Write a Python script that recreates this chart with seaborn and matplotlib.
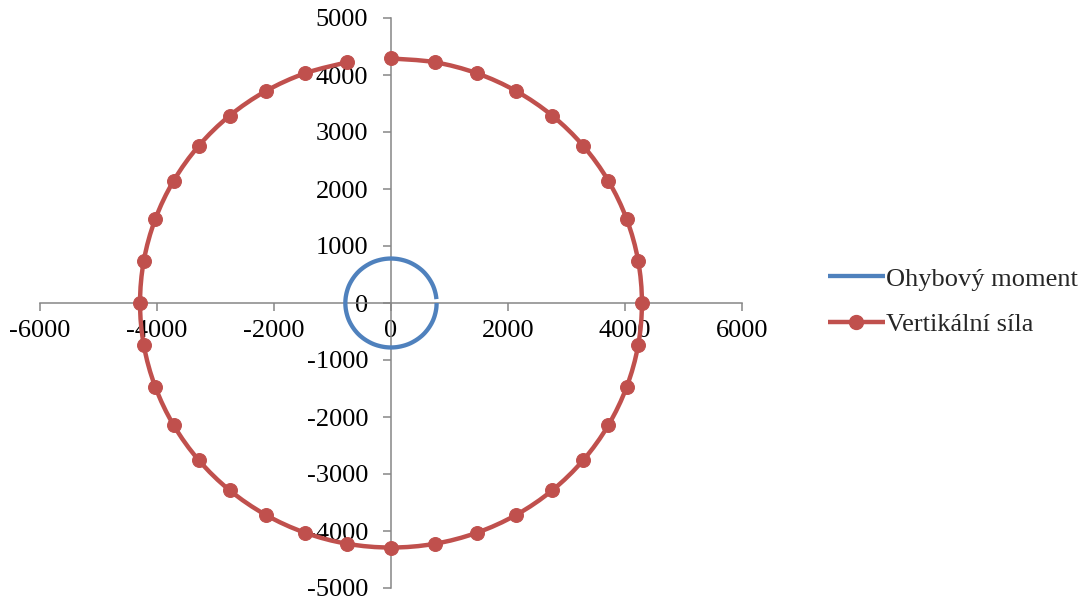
import matplotlib
matplotlib.use("Agg")
import matplotlib.pyplot as plt
from matplotlib.path import Path
from matplotlib.patches import PathPatch
from matplotlib.lines import Line2D
import seaborn as sns

# Ohybový moment (bending moment) polar curve, points every 5 degrees
moment_x = [780, 777, 768, 753, 733, 707, 675, 639, 598, 552, 501, 447, 390, 330, 267, 202, 135, 68, 0,
            -68, -135, -202, -267, -330, -390, -447, -501, -552, -598, -639, -675, -707, -733, -753, -768, -777, -780,
            -777, -768, -753, -733, -707, -675, -639, -598, -552, -501, -447, -390, -330, -267, -202, -135, -68, 0,
            68, 135, 202, 267, 330, 390, 447, 501, 552, 598, 639, 675, 707, 733, 753, 768, 777]
moment_y = [0, -68, -135, -202, -267, -330, -390, -447, -501, -552, -598, -639, -675, -707, -733, -753, -768, -777, -780,
            -777, -768, -753, -733, -707, -675, -639, -598, -552, -501, -447, -390, -330, -267, -202, -135, -68, 0,
            68, 135, 202, 267, 330, 390, 447, 501, 552, 598, 639, 675, 707, 733, 753, 768, 777, 780,
            777, 768, 753, 733, 707, 675, 639, 598, 552, 501, 447, 390, 330, 267, 202, 135, 68]

# Vertikální síla (vertical force) polar curve, points every 10 degrees
force_x = [0, 745, 1467, 2145, 2758, 3286, 3715, 4031, 4225, 4290,
           4225, 4031, 3715, 3286, 2758, 2145, 1467, 745, 0,
           -745, -1467, -2145, -2758, -3286, -3715, -4031, -4225, -4290,
           -4225, -4031, -3715, -3286, -2758, -2145, -1467, -745]
force_y = [4290, 4225, 4031, 3715, 3286, 2758, 2145, 1467, 745, 0,
           -745, -1467, -2145, -2758, -3286, -3715, -4031, -4225, -4290,
           -4225, -4031, -3715, -3286, -2758, -2145, -1467, -745, 0,
           745, 1467, 2145, 2758, 3286, 3715, 4031, 4225]

series_names = ["Ohybový moment", "Vertikální síla"]
x_ticks = [-6000, -4000, -2000, 0, 2000, 4000, 6000]
y_ticks = [-5000, -4000, -3000, -2000, -1000, 0, 1000, 2000, 3000, 4000, 5000]


def smooth_path(xs, ys):
    """Cubic Bezier path through the points (spreadsheet-style smoothed line)."""
    pts = list(zip(xs, ys))
    n = len(pts)
    verts = [pts[0]]
    codes = [Path.MOVETO]
    for i in range(n - 1):
        p0 = pts[i - 1] if i > 0 else pts[i]
        p1 = pts[i]
        p2 = pts[i + 1]
        p3 = pts[i + 2] if i + 2 < n else pts[i + 1]
        c1 = (p1[0] + (p2[0] - p0[0]) / 6.0, p1[1] + (p2[1] - p0[1]) / 6.0)
        c2 = (p2[0] - (p3[0] - p1[0]) / 6.0, p2[1] - (p3[1] - p1[1]) / 6.0)
        verts += [c1, c2, p2]
        codes += [Path.CURVE4] * 3
    return Path(verts, codes)


sns.set_style("white")
plt.rcParams["font.family"] = ["Liberation Serif", "DejaVu Serif"]

fig = plt.figure(figsize=(10.9, 6.0), dpi=100)
ax = fig.add_axes([0.0367, 0.02, 0.644, 0.95])

blue = "#4F81BD"
red = "#C0504D"
axis_grey = "#868686"
blue_lw = 3.1
red_lw = 3.2

# smoothed connecting lines
ax.add_patch(PathPatch(smooth_path(moment_x, moment_y), facecolor="none",
                       edgecolor=blue, linewidth=blue_lw, capstyle="butt", zorder=3))
ax.add_patch(PathPatch(smooth_path(force_x, force_y), facecolor="none",
                       edgecolor=red, linewidth=red_lw, capstyle="round", zorder=3))

# data point markers
sns.lineplot(x=force_x, y=force_y, sort=False, estimator=None, ax=ax,
             color=red, linestyle="", marker="o", markersize=10,
             markeredgecolor=red, markerfacecolor=red, zorder=4, legend=False)

ax.set_xlim(-6000, 6000)
ax.set_ylim(-5000, 5000)
ax.set_xticks(x_ticks)
ax.set_yticks(y_ticks)
ax.set_xticklabels([str(v) for v in x_ticks])
ax.set_yticklabels([str(v) for v in y_ticks])

for side in ("top", "right"):
    ax.spines[side].set_visible(False)
for side in ("left", "bottom"):
    ax.spines[side].set_position(("data", 0))
    ax.spines[side].set_color(axis_grey)
    ax.spines[side].set_linewidth(1.1)
    ax.spines[side].set_zorder(2)

ax.tick_params(axis="both", which="major", direction="out", length=5.5,
               width=1.1, color=axis_grey, labelsize=19, labelcolor="black")
ax.tick_params(axis="x", pad=7, bottom=True)
ax.tick_params(axis="y", pad=11, left=True)
ax.set_xlabel("")
ax.set_ylabel("")

handles = [
    Line2D([], [], color=blue, linewidth=blue_lw, solid_capstyle="butt"),
    Line2D([], [], color=red, linewidth=red_lw, marker="o", markersize=10,
           markeredgecolor=red, markerfacecolor=red, solid_capstyle="butt"),
]
ax.legend(handles, series_names, loc="center left", bbox_to_anchor=(0.7596, 0.497),
          bbox_transform=fig.transFigure, frameon=False, fontsize=19,
          handlelength=2.15, handletextpad=0.06, labelspacing=0.85,
          borderpad=0, borderaxespad=0, numpoints=1)

fig.savefig("out.png", dpi=100)
